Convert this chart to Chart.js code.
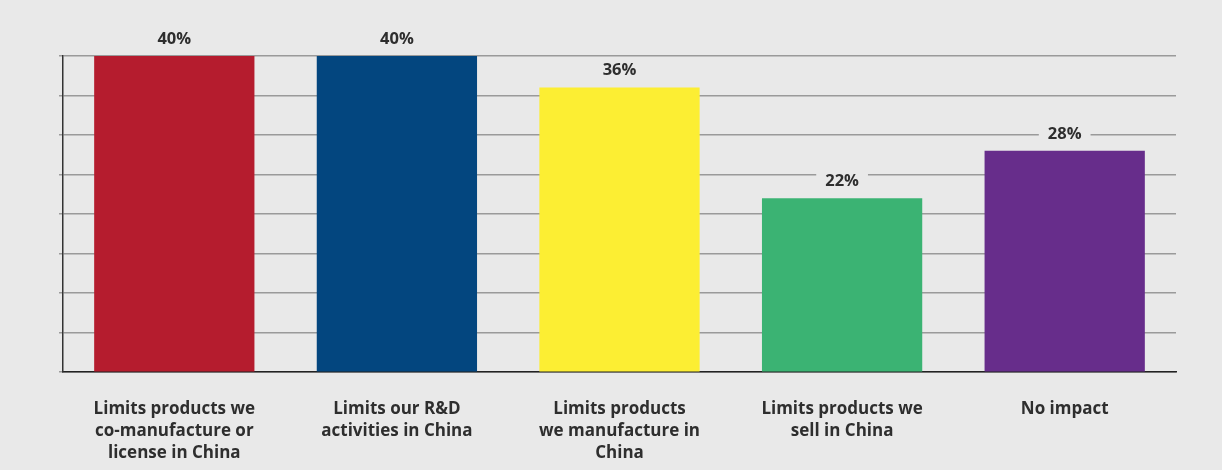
<!DOCTYPE html>
<html>
<head>
<meta charset="utf-8">
<script src="https://cdn.jsdelivr.net/npm/chart.js@4/dist/chart.umd.min.js"></script>
<style>
  html, body { margin: 0; padding: 0; background: #e9e9e9; }
  #wrap { width: 1222px; height: 470px; }
</style>
</head>
<body>
<div id="wrap"><canvas id="impactChart"></canvas></div>
<script>
const categories = [
    ["Limits products we", "co-manufacture or", "license in China"],
    ["Limits our R&D", "activities in China"],
    ["Limits products", "we manufacture in", "China"],
    ["Limits products we", "sell in China"],
    ["No impact"]
];
const shares = [40, 40, 36, 22, 28];
const barColors = ["#b51c2e", "#03467f", "#fcee33", "#3bb373", "#672d8b"];

// value labels sit above each bar on a patch of background colour
const valueLabels = {
    id: "valueLabels",
    afterDatasetsDraw(c) {
        const ctx = c.ctx;
        const meta = c.getDatasetMeta(0);
        ctx.save();
        ctx.font = "700 16.5px 'Open Sans'";
        ctx.textAlign = "center";
        ctx.textBaseline = "middle";
        meta.data.forEach((bar, i) => {
            const txt = shares[i] + "%";
            const w = ctx.measureText(txt).width + 18;
            const y = bar.y - 17;
            ctx.fillStyle = "#e9e9e9";
            ctx.fillRect(bar.x - w / 2, y - 10, w, 20);
            ctx.fillStyle = "#2e2e2e";
            ctx.fillText(txt, bar.x, y);
        });
        ctx.restore();
    }
};

new Chart(
    document.getElementById("impactChart"),
    {
        type: "bar",
        data: {
            labels: categories,
            datasets: [{
                data: shares,
                backgroundColor: barColors,
                barPercentage: 0.72,
                categoryPercentage: 1
            }]
        },
        options: {
            responsive: true,
            maintainAspectRatio: false,
            animation: false,
            layout: {
                padding: { top: 56, right: 46, left: 59, bottom: -12 }
            },
            plugins: {
                legend: { display: false },
                tooltip: { enabled: false }
            },
            scales: {
                x: {
                    grid: { display: false },
                    border: { display: true, color: "#222222", width: 1.5 },
                    ticks: {
                        color: "#2e2e2e",
                        font: { family: "'Open Sans'", size: 17, weight: "700", lineHeight: 1.29 },
                        padding: 18,
                        maxRotation: 0,
                        autoSkip: false
                    }
                },
                y: {
                    min: 0,
                    max: 40,
                    ticks: { display: false, stepSize: 5 },
                    grid: {
                        color: "#9a9a9a",
                        lineWidth: 1.5,
                        drawTicks: true,
                        tickLength: 4
                    },
                    border: { display: true, color: "#333333", width: 1.5 }
                }
            }
        },
        plugins: [valueLabels]
    }
);
</script>
</body>
</html>
